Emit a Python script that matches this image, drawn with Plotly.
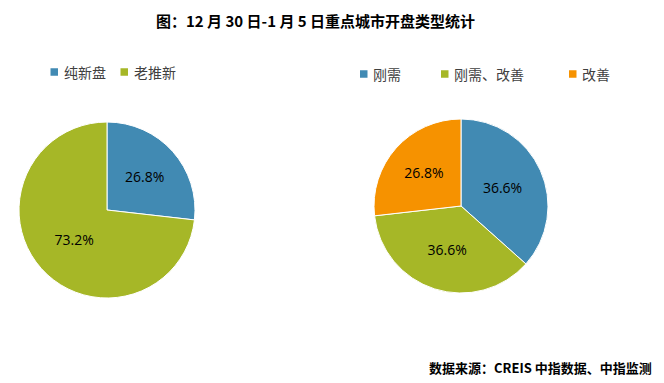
import plotly.graph_objects as go

title_text = "图：12 月 30 日-1 月 5 日重点城市开盘类型统计"
source_text = "数据来源：CREIS 中指数据、中指监测"

left_labels = ["纯新盘", "老推新"]
left_values = [26.8, 73.2]
right_labels = ["刚需", "刚需、改善", "改善"]
right_values = [36.6, 36.6, 26.8]

c_blue = "#418AB3"
c_green = "#A6B727"
c_orange = "#F69200"
left_colors = [c_blue, c_green]
right_colors = [c_blue, c_green, c_orange]

# page has an 8px body margin; figure area is smaller accordingly
OFF = 8
W, H = 664 - OFF, 383 - OFF
cjk = "Noto Sans CJK SC"


def px(x):
    return (x - OFF) / W


def py(y):
    return (H - (y - OFF)) / H


fig = go.Figure()
fig.add_trace(go.Pie(
    labels=left_labels, values=left_values, sort=False, direction="clockwise", rotation=0,
    marker=dict(colors=left_colors, line=dict(color="white", width=1)),
    texttemplate="%{value:.1f}%", textposition="inside", insidetextorientation="horizontal",
    textfont=dict(family="Open Sans", size=14, color="black"),
    domain=dict(x=[px(19), px(195)], y=[py(298), py(122)]),
    showlegend=False, hoverinfo="label+value",
))
fig.add_trace(go.Pie(
    labels=right_labels, values=right_values, sort=False, direction="clockwise", rotation=0,
    marker=dict(colors=right_colors, line=dict(color="white", width=1)),
    texttemplate="%{value:.1f}%", textposition="inside", insidetextorientation="horizontal",
    textfont=dict(family="Open Sans", size=14, color="black"),
    domain=dict(x=[px(374), px(548)], y=[py(293), py(119)]),
    showlegend=False, hoverinfo="label+value",
))

shapes = []
annotations = []


def legend_item(x_sq, y_c, color, text):
    shapes.append(dict(type="rect", xref="paper", yref="paper",
                       x0=px(x_sq), x1=px(x_sq + 7.5),
                       y0=py(y_c + 3.75), y1=py(y_c - 3.75),
                       fillcolor=color, line=dict(width=0)))
    annotations.append(dict(x=px(x_sq + 11), y=py(y_c), xref="paper", yref="paper",
                            text=text, showarrow=False, xanchor="left", yanchor="middle",
                            font=dict(family=cjk, size=14, color="#404040")))


legend_item(50.5, 72, left_colors[0], left_labels[0])
legend_item(120.5, 72, left_colors[1], left_labels[1])
legend_item(360, 74, right_colors[0], right_labels[0])
legend_item(441, 74, right_colors[1], right_labels[1])
legend_item(569, 74, right_colors[2], right_labels[2])

annotations.append(dict(x=px(315), y=py(9), xref="paper", yref="paper",
                        text="<b>" + title_text + "</b>", showarrow=False,
                        xanchor="center", yanchor="top", borderpad=0,
                        font=dict(family=cjk, size=15, color="black")))
annotations.append(dict(x=px(654), y=py(367), xref="paper", yref="paper",
                        text="<b>" + source_text + "</b>", showarrow=False,
                        xanchor="right", yanchor="middle",
                        font=dict(family=cjk, size=13, color="black")))

fig.update_layout(width=W, height=H, margin=dict(l=0, r=0, t=0, b=0),
                  paper_bgcolor="white", plot_bgcolor="white",
                  shapes=shapes, annotations=annotations)

fig.write_html("out.html")
